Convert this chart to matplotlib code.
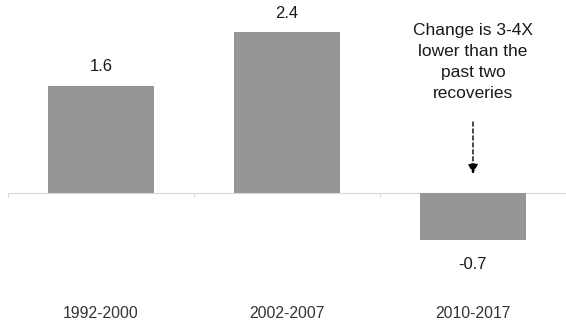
import matplotlib
matplotlib.use('Agg')
import matplotlib.pyplot as plt

plt.rcParams['font.family'] = ['Liberation Sans', 'DejaVu Sans']

# Average change per recovery period
periods = ['1992-2000', '2002-2007', '2010-2017']
changes = [1.6, 2.4, -0.7]
value_labels = ['1.6', '2.4', '-0.7']
note = 'Change is 3-4X\nlower than the\npast two\nrecoveries'

W, H, DPI = 566, 326, 100
fig = plt.figure(figsize=(W / DPI, H / DPI), dpi=DPI)
ax = fig.add_axes([0, 0, 1, 1])

# pixel layout: first category boundary at x=8, ~188.5 px per category, zero at y=193
px_per_cat = 188.5
px_per_unit = 66.9
zero_y = 193
left = -0.5 - 8 / px_per_cat
ax.set_xlim(left, left + W / px_per_cat)
ax.set_ylim(-(H - zero_y) / px_per_unit, zero_y / px_per_unit)

x = list(range(len(periods)))
bar_color = '#969696'
ax.bar(x, changes, width=0.572, color=bar_color, zorder=2)

# zero axis with ticks between categories
for s in ['top', 'left', 'right']:
    ax.spines[s].set_visible(False)
ax.spines['bottom'].set_position(('data', 0))
ax.spines['bottom'].set_bounds(-0.5, len(periods) - 0.5)
ax.spines['bottom'].set_color('#d9d9d9')
ax.spines['bottom'].set_zorder(1)
ax.set_xticks([i - 0.5 for i in range(len(periods) + 1)])
ax.tick_params(axis='x', length=3, color='#d9d9d9', labelbottom=False)
ax.set_yticks([])

# value labels
for xi, v, lab in zip(x, changes, value_labels):
    if v >= 0:
        ax.annotate(lab, (xi, v), xytext=(0, 19), textcoords='offset pixels',
                    ha='center', va='center', fontsize=12, color='#1a1a1a')
    else:
        ax.annotate(lab, (xi, v), xytext=(0, -25), textcoords='offset pixels',
                    ha='center', va='center', fontsize=12, color='#1a1a1a')

# category labels along the bottom
for xi, p in zip(x, periods):
    ax.text(xi, 12 / H, p, transform=ax.get_xaxis_transform(),
            ha='center', va='center', fontsize=11.3, color='#333333')

# callout over the latest recovery
ax.text(2, 1 - 62 / H, note, transform=ax.get_xaxis_transform(),
        ha='center', va='center', fontsize=12.5, linespacing=1.5, color='#1a1a1a')
ax.annotate('', xy=(2, 19 / px_per_unit), xytext=(2, 71 / px_per_unit),
            arrowprops=dict(arrowstyle='-|>', linestyle=(0, (3, 2)), lw=1,
                            color='black', mutation_scale=15, shrinkA=0, shrinkB=0))

fig.savefig('out.png', dpi=DPI)
